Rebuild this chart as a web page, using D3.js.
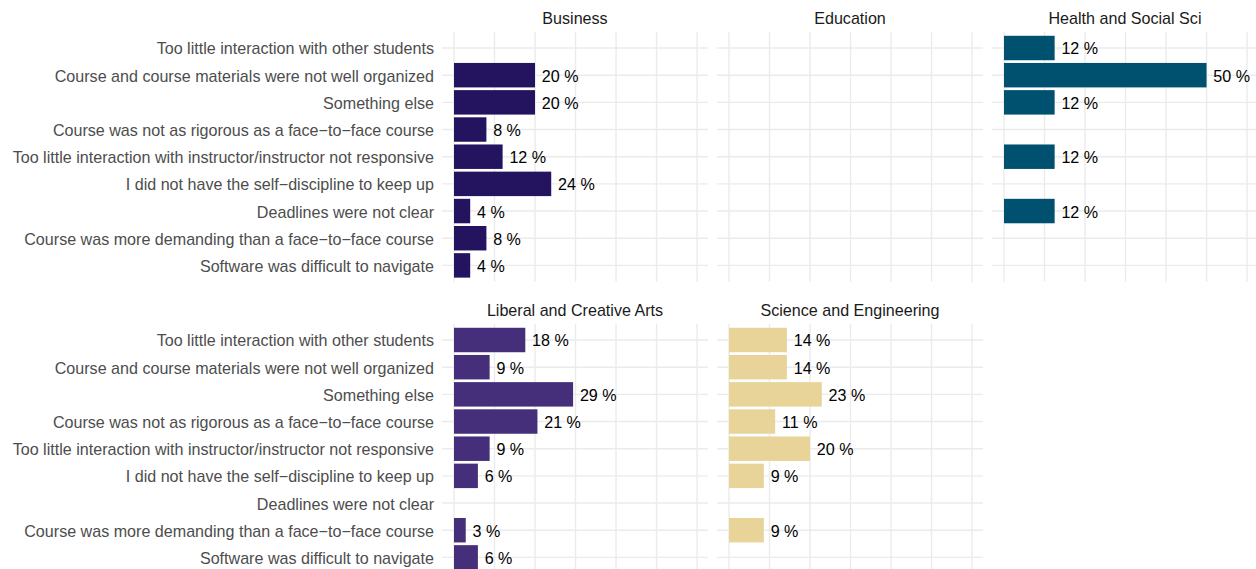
<!DOCTYPE html>
<html><head><meta charset="utf-8">
<script src="https://cdn.jsdelivr.net/npm/d3@7"></script>
<style>body{margin:0;background:#fff}svg{display:block}</style>
</head><body>
<script>
const categories = [
  "Too little interaction with other students",
  "Course and course materials were not well organized",
  "Something else",
  "Course was not as rigorous as a face\u2212to\u2212face course",
  "Too little interaction with instructor/instructor not responsive",
  "I did not have the self\u2212discipline to keep up",
  "Deadlines were not clear",
  "Course was more demanding than a face\u2212to\u2212face course",
  "Software was difficult to navigate"
];
const panels = ["Business","Education","Health and Social Sci","Liberal and Creative Arts","Science and Engineering"];
// null = no bar
const business  = [null, 20, 20, 8, 12, 24, 4, 8, 4];
const education = [null, null, null, null, null, null, null, null, null];
const health    = [12.5, 50, 12.5, null, 12.5, null, 12.5, null, null];
const liberal   = [17.6, 8.8, 29.4, 20.6, 8.8, 5.9, null, 2.9, 5.9];
const science   = [14.3, 14.3, 22.9, 11.4, 20.0, 8.6, null, 8.6, null];
const seriesValues = [business, education, health, liberal, science];
const colors = ["#24135f", "#24135f", "#00506f", "#452f7a", "#e8d499"];
const xTicks = [0, 10, 20, 30, 40, 50, 60];

function roundHalfEven(v){const f=Math.floor(v);const d=v-f;if(Math.abs(d-0.5)<1e-9)return f%2===0?f:f+1;return Math.round(v);}

const W=1256,H=569;
const svg=d3.select("body").append("svg").attr("width",W).attr("height",H);
const font="'Liberation Sans', Arial, sans-serif";
const fs=16.1;
const colX=[442,717,992], panelW=266;
const rowY=[31.7,323.7], panelH=250;

const x=d3.scaleLinear().domain([-2.96,62.7]).range([0,panelW]);
const step=panelH/(categories.length-1+1.2);
const yc=d3.scalePoint().domain(categories).range([0.6*step, panelH-0.6*step]);
const barH=0.9*step;

panels.forEach((p,i)=>{
  const col=i<3?i:i-3, row=i<3?0:1;
  const g=svg.append("g").attr("transform",`translate(${colX[col]},${rowY[row]})`);
  g.selectAll("line.v").data(xTicks).enter().append("line")
    .attr("x1",d=>x(d)).attr("x2",d=>x(d)).attr("y1",0).attr("y2",panelH)
    .attr("stroke","#ebebeb").attr("stroke-width",1.4);
  g.selectAll("line.h").data(categories).enter().append("line")
    .attr("x1",0).attr("x2",panelW).attr("y1",d=>yc(d)).attr("y2",d=>yc(d))
    .attr("stroke","#ebebeb").attr("stroke-width",1.4);
  svg.append("text").attr("x",colX[col]+panelW/2).attr("y",rowY[row]-14)
    .attr("text-anchor","middle").attr("dominant-baseline","central")
    .attr("font-family",font).attr("font-size",fs).attr("fill","#1a1a1a").text(p);
  const data=categories.map((c,k)=>({c,v:seriesValues[i][k]})).filter(d=>d.v!==null);
  g.selectAll("rect").data(data).enter().append("rect")
    .attr("x",x(0)).attr("width",d=>x(d.v)-x(0))
    .attr("y",d=>yc(d.c)-barH/2).attr("height",barH).attr("fill",colors[i]);
  g.selectAll("text.lab").data(data).enter().append("text")
    .attr("x",d=>x(d.v)+6.8).attr("y",d=>yc(d.c)+0.5).attr("dominant-baseline","central")
    .attr("font-family",font).attr("font-size",fs).attr("fill","#000")
    .text(d=>roundHalfEven(d.v)+" %");
  if(col===0){
    g.selectAll("text.ax").data(categories).enter().append("text")
      .attr("x",-8).attr("y",d=>yc(d)+0.5).attr("text-anchor","end").attr("dominant-baseline","central")
      .attr("font-family",font).attr("font-size",fs).attr("fill","#4d4d4d").text(d=>d);
  }
});
</script>
</body></html>
